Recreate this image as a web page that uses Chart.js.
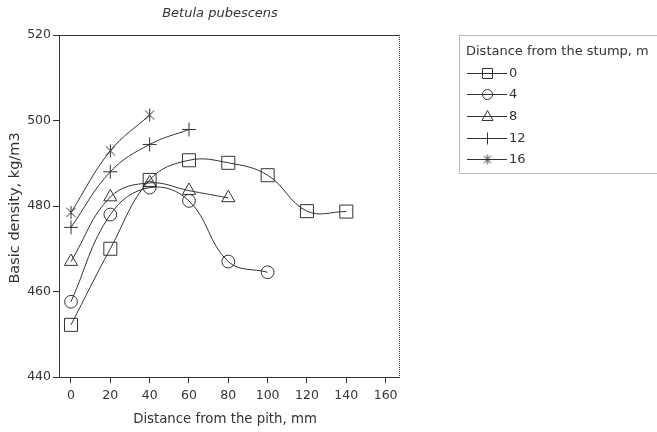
<!DOCTYPE html>
<html><head><meta charset="utf-8">
<script src="https://cdn.jsdelivr.net/npm/chart.js@4/dist/chart.umd.min.js"></script>
<style>html,body{margin:0;padding:0;background:#fff;overflow:hidden}#wrap{width:657px;height:432px;position:relative}</style>
</head><body><div id="wrap"><canvas id="c" width="657" height="432"></canvas></div>
<script>
const chartTitle = 'Betula pubescens';
const xAxisTitle = 'Distance from the pith, mm';
const yAxisTitle = 'Basic density, kg/m3';
const legendTitle = 'Distance from the stump, m';
const seriesLabels = ['0', '4', '8', '12', '16'];
const xTicks = [0, 20, 40, 60, 80, 100, 120, 140, 160];
const yTicks = [440, 460, 480, 500, 520];
const xStump0 = [0, 20, 40, 60, 80, 100, 120, 140];
const yStump0 = [452.2, 470.0, 486.1, 490.7, 490.1, 487.2, 478.8, 478.7];
const xStump4 = [0, 20, 40, 60, 80, 100];
const yStump4 = [457.6, 478.0, 484.3, 481.2, 467.0, 464.5];
const xStump8 = [0, 20, 40, 60, 80];
const yStump8 = [467.0, 482.1, 485.4, 483.6, 481.9];
const xStump12 = [0, 20, 40, 60];
const yStump12 = [475.0, 488.0, 494.4, 497.9];
const xStump16 = [0, 20, 40];
const yStump16 = [478.5, 492.9, 501.3];

const INK = '#333';
const FONT = '"DejaVu Sans", sans-serif';

function starCanvas(size) {
  const c = document.createElement('canvas');
  c.width = size; c.height = size;
  const g = c.getContext('2d');
  const m = size / 2, r = size / 2 - 1;
  g.strokeStyle = INK; g.lineWidth = 1;
  g.beginPath();
  g.moveTo(m, m - r); g.lineTo(m, m + r);
  const d = r * 0.72;
  g.moveTo(m - d, m - d); g.lineTo(m + d, m + d);
  g.moveTo(m + d, m - d); g.lineTo(m - d, m + d);
  g.stroke();
  return c;
}
const starBig = starCanvas(15);
const starSmall = starCanvas(12);

function pts(xs, ys) { return xs.map((x, i) => ({x: x, y: ys[i]})); }

const styles = [
  {ps: 'rect', r: 9.2},
  {ps: 'circle', r: 6.4},
  {ps: 'triangle', r: 7.6},
  {ps: 'cross', r: 7},
  {ps: starBig, r: 7}
];
const seriesData = [pts(xStump0, yStump0), pts(xStump4, yStump4), pts(xStump8, yStump8), pts(xStump12, yStump12), pts(xStump16, yStump16)];

const datasets = seriesData.map((d, i) => ({
  label: seriesLabels[i],
  data: d,
  borderColor: INK,
  borderWidth: 1,
  backgroundColor: 'rgba(0,0,0,0)',
  pointStyle: styles[i].ps,
  pointRadius: styles[i].r,
  pointHoverRadius: styles[i].r,
  pointBorderColor: INK,
  pointBackgroundColor: 'rgba(0,0,0,0)',
  pointBorderWidth: 1,
  tension: 0.4,
  fill: false
}));

function drawLegendMarker(ctx, i, x, y) {
  ctx.strokeStyle = INK; ctx.lineWidth = 1;
  ctx.beginPath();
  if (i === 0) { ctx.rect(x - 5, y - 5, 10, 10); }
  else if (i === 1) { ctx.arc(x, y, 5, 0, Math.PI * 2); }
  else if (i === 2) { ctx.moveTo(x, y - 6); ctx.lineTo(x + 5.5, y + 4); ctx.lineTo(x - 5.5, y + 4); ctx.closePath(); }
  else if (i === 3) { ctx.moveTo(x, y - 6); ctx.lineTo(x, y + 6); }
  ctx.stroke();
  if (i === 4) ctx.drawImage(starSmall, x - 6, y - 6);
}

const decor = {
  id: 'decor',
  afterDraw(chart) {
    const ctx = chart.ctx, a = chart.chartArea;
    ctx.save();
    ctx.strokeStyle = INK; ctx.lineWidth = 1;
    ctx.beginPath(); ctx.moveTo(a.left, a.top + 0.5); ctx.lineTo(a.right, a.top + 0.5); ctx.stroke();
    ctx.setLineDash([1, 1]);
    ctx.beginPath(); ctx.moveTo(a.right + 0.5, a.top); ctx.lineTo(a.right + 0.5, a.bottom); ctx.stroke();
    ctx.setLineDash([]);
    // titles
    ctx.fillStyle = INK;
    ctx.textAlign = 'center'; ctx.textBaseline = 'middle';
    ctx.font = 'italic 13px ' + FONT;
    ctx.fillText(chartTitle, 220, 14);
    ctx.font = '13.3px ' + FONT;
    ctx.fillText(xAxisTitle, 225, 420);
    ctx.save();
    ctx.translate(15, 208); ctx.rotate(-Math.PI / 2);
    ctx.font = '14.5px ' + FONT;
    ctx.fillText(yAxisTitle, 0, 0);
    ctx.restore();
    // legend
    ctx.strokeStyle = '#777'; ctx.setLineDash([1, 1]);
    ctx.strokeRect(459.5, 35.5, 230, 138);
    ctx.setLineDash([]);
    ctx.textAlign = 'left';
    ctx.font = '13px ' + FONT;
    ctx.fillStyle = INK;
    ctx.fillText(legendTitle, 466, 52);
    const ys = [72.5, 94, 116, 137.5, 159];
    seriesLabels.forEach((lab, i) => {
      const y = Math.round(ys[i]) + 0.5;
      ctx.strokeStyle = INK; ctx.lineWidth = 1;
      ctx.beginPath(); ctx.moveTo(467, y); ctx.lineTo(507, y); ctx.stroke();
      drawLegendMarker(ctx, i, 487.5, y);
      ctx.fillStyle = INK;
      ctx.fillText(lab, 509, y);
    });
    ctx.restore();
  }
};

new Chart(document.getElementById('c'), {
  type: 'line',
  data: {datasets: datasets},
  plugins: [decor],
  options: {
    responsive: false,
    animation: false,
    events: [],
    layout: {padding: {left: 0, top: 35, right: 258, bottom: 0}},
    plugins: {legend: {display: false}, title: {display: false}, tooltip: {enabled: false}},
    scales: {
      x: {
        type: 'linear', min: -6.1, max: 166.8,
        afterFit(s) { s.height = 55; },
        afterBuildTicks(s) { s.ticks = xTicks.map(v => ({value: v})); },
        grid: {display: true, drawOnChartArea: false, drawTicks: true, tickLength: 6, color: INK},
        border: {display: true, color: INK, width: 1},
        ticks: {color: INK, font: {family: FONT, size: 12.5}, padding: 5, maxRotation: 0}
      },
      y: {
        type: 'linear', min: 440, max: 520,
        afterFit(s) { s.width = 59; },
        afterBuildTicks(s) { s.ticks = yTicks.map(v => ({value: v})); },
        grid: {display: true, drawOnChartArea: false, drawTicks: true, tickLength: 6, color: INK},
        border: {display: true, color: INK, width: 1, dash: [1, 1]},
        ticks: {color: INK, font: {family: FONT, size: 12.5}, padding: 2}
      }
    }
  }
});
</script></body></html>
